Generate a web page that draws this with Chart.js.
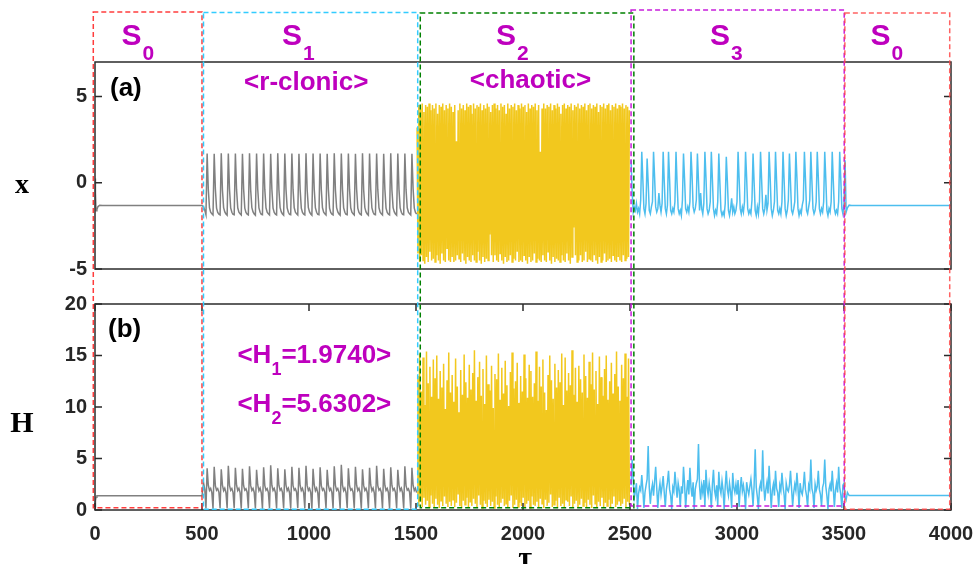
<!DOCTYPE html>
<html>
<head>
<meta charset="utf-8">
<script src="https://cdn.jsdelivr.net/npm/chart.js@4.4.1/dist/chart.umd.min.js"></script>
<style>
  body { margin: 0; background: #fff; }
  #wrap { position: relative; width: 976px; height: 564px; overflow: hidden; background: #fff; }
  canvas { position: absolute; left: 0; top: 0; }
</style>
</head>
<body>
<div id="wrap">
  <canvas id="hCanvas" width="976" height="564"></canvas>
  <canvas id="xCanvas" width="976" height="564"></canvas>
</div>
<script>
const xTicks = [0, 500, 1000, 1500, 2000, 2500, 3000, 3500, 4000];
const xPanelTicks = [-5, 0, 5];
const hPanelTicks = [0, 5, 10, 15, 20];

// state S0 (start)
const s0aT = [0, 2, 5, 9, 14, 22, 35, 500];
const s0aX = [0.25, -0.6, -1.62, -1.55, -1.38, -1.3, -1.32, -1.32];
const s0aH = [0.3, 0.9, 1.25, 1.38, 1.38, 1.38, 1.38, 1.38];

// state S1 (r-clonic), sampled every 5.5
const s1Start = 502, s1Step = 5.5;
const s1X = [
  -1.32, -1.40, -1.60,
  -1.85, 1.70, -0.40, -1.45, -1.70, -1.80,
  -1.87, 1.68, -0.36, -1.47, -1.72, -1.82,
  -1.86, 1.71, -0.42, -1.44, -1.69, -1.81,
  -1.88, 1.69, -0.38, -1.46, -1.71, -1.83,
  -1.85, 1.70, -0.40, -1.45, -1.70, -1.80,
  -1.87, 1.68, -0.36, -1.47, -1.72, -1.82,
  -1.86, 1.71, -0.42, -1.44, -1.69, -1.81,
  -1.88, 1.69, -0.38, -1.46, -1.71, -1.83,
  -1.85, 1.70, -0.40, -1.45, -1.70, -1.80,
  -1.87, 1.68, -0.36, -1.47, -1.72, -1.82,
  -1.86, 1.71, -0.42, -1.44, -1.69, -1.81,
  -1.88, 1.69, -0.38, -1.46, -1.71, -1.83,
  -1.85, 1.70, -0.40, -1.45, -1.70, -1.80,
  -1.87, 1.68, -0.36, -1.47, -1.72, -1.82,
  -1.86, 1.71, -0.42, -1.44, -1.69, -1.81,
  -1.88, 1.69, -0.38, -1.46, -1.71, -1.83,
  -1.85, 1.70, -0.40, -1.45, -1.70, -1.80,
  -1.87, 1.68, -0.36, -1.47, -1.72, -1.82,
  -1.86, 1.71, -0.42, -1.44, -1.69, -1.81,
  -1.88, 1.69, -0.38, -1.46, -1.71, -1.83,
  -1.85, 1.70, -0.40, -1.45, -1.70, -1.80,
  -1.87, 1.68, -0.36, -1.47, -1.72, -1.82,
  -1.86, 1.71, -0.42, -1.44, -1.69, -1.81,
  -1.88, 1.69, -0.38, -1.46, -1.71, -1.83,
  -1.85, 1.70, -0.40, -1.45, -1.70, -1.80,
  -1.87, 1.68, -0.36, -1.47, -1.72, -1.82,
  -1.86, 1.71, -0.42, -1.44, -1.69, -1.81,
  -1.88, 1.69, -0.38, -1.46, -1.71, -1.83,
  -1.85, 1.70, -0.40, -1.45, -1.70, -1.80,
  -1.87, 1.68, -0.36, -1.47, -1.72, -1.82
];
const s1H = [
  1.38, 2.60, 2.00,
  0.15, 4.05, 2.40, 1.90, 2.10, 1.70,
  0.12, 4.20, 2.35, 1.92, 2.08, 1.72,
  0.18, 3.95, 2.42, 1.88, 2.12, 1.68,
  0.14, 4.30, 2.38, 1.91, 2.09, 1.71,
  0.16, 4.10, 2.41, 1.89, 2.11, 1.69,
  0.13, 4.00, 2.36, 1.93, 2.07, 1.73,
  0.17, 4.25, 2.39, 1.90, 2.10, 1.70,
  0.15, 3.90, 2.43, 1.87, 2.13, 1.67,
  0.12, 4.15, 2.37, 1.92, 2.08, 1.72,
  0.18, 4.35, 2.40, 1.90, 2.10, 1.70,
  0.14, 4.05, 2.38, 1.91, 2.09, 1.71,
  0.16, 3.95, 2.42, 1.88, 2.12, 1.68,
  0.13, 4.20, 2.36, 1.93, 2.07, 1.73,
  0.17, 4.10, 2.41, 1.89, 2.11, 1.69,
  0.15, 4.30, 2.39, 1.90, 2.10, 1.70,
  0.12, 4.00, 2.43, 1.87, 2.13, 1.67,
  0.18, 4.15, 2.37, 1.92, 2.08, 1.72,
  0.14, 3.90, 2.40, 1.90, 2.10, 1.70,
  0.16, 4.25, 2.38, 1.91, 2.09, 1.71,
  0.13, 4.40, 2.42, 1.88, 2.12, 1.68,
  0.17, 4.05, 2.36, 1.93, 2.07, 1.73,
  0.15, 4.20, 2.41, 1.89, 2.11, 1.69,
  0.12, 3.95, 2.39, 1.90, 2.10, 1.70,
  0.18, 4.10, 2.43, 1.87, 2.13, 1.67,
  0.14, 4.30, 2.37, 1.92, 2.08, 1.72,
  0.16, 4.00, 2.40, 1.90, 2.10, 1.70,
  0.13, 4.15, 2.38, 1.91, 2.09, 1.71,
  0.17, 3.90, 2.42, 1.88, 2.12, 1.68,
  0.15, 4.25, 2.36, 1.93, 2.07, 1.73,
  0.12, 4.10, 2.41, 1.89, 2.11, 1.69
];

// state S2 (chaotic), sampled every 4
const s2Start = 1505, s2Step = 4;
const s2X = [
  3.2, -4.1, 4.5, -4.6, 4.3, -4.2, 4.6, -4.5, 4.1, -4.7, 4.5, -4.3, 4.4, -4.6, 4.6, -4.0, 4.2, -4.5, 4.5, -4.4,
  4.3, -4.6, 4.6, -4.2, 4.0, -4.5, 4.5, -4.7, 4.4, -4.1, 4.6, -4.5, 4.2, -4.6, 4.5, -3.8, 4.3, -4.5, 4.6, -4.6,
  4.4, -4.3, 4.1, -4.6, 4.5, -4.5, 2.4, -4.2, 4.2, -4.4, 4.6, -4.6, 4.3, -4.1, 4.5, -4.5, 4.2, -4.7, 4.6, -4.3,
  4.4, -4.5, 4.5, -4.6, 4.0, -4.2, 4.6, -4.5, 4.3, -4.6, 4.5, -4.0, 4.4, -4.5, 4.6, -4.7, 4.2, -4.3, 4.5, -4.6,
  4.3, -4.4, 4.6, -4.5, 4.4, -3.0, 4.1, -4.2, 4.5, -4.6, 4.6, -4.2, 4.3, -4.5, 4.5, -4.6, 4.2, -4.1, 4.6, -4.5,
  4.4, -4.7, 4.5, -4.3, 4.0, -4.6, 4.6, -4.5, 4.3, -4.2, 4.5, -4.6, 4.4, -4.4, 4.6, -4.5, 4.2, -4.0, 4.5, -4.6,
  4.3, -4.5, 4.6, -4.6, 4.4, -4.2, 4.5, -4.5, 4.1, -4.7, 4.6, -4.3, 4.3, -4.6, 4.5, -4.5, 4.4, -4.1, 4.6, -4.6,
  4.2, -4.4, 4.5, -4.5, 1.8, -4.6, 4.3, -4.2, 4.6, -4.5, 4.3, -4.6, 4.5, -4.0, 4.4, -4.5, 4.6, -4.7, 4.2, -4.3,
  4.5, -4.6, 4.3, -4.4, 4.6, -4.5, 4.4, -4.6, 4.0, -4.2, 4.5, -4.5, 4.6, -4.6, 4.3, -4.1, 4.5, -4.5, 4.4, -4.7,
  4.6, -4.3, 4.2, -2.6, 4.5, -4.2, 4.4, -4.6, 4.6, -4.5, 4.3, -4.2, 4.5, -4.6, 4.4, -4.5, 4.6, -4.0, 4.2, -4.6,
  4.5, -4.4, 4.6, -4.5, 4.3, -4.6, 4.5, -4.2, 4.4, -4.5, 4.6, -4.7, 4.1, -4.3, 4.5, -4.6, 4.4, -4.5, 4.6, -4.1,
  4.3, -4.6, 4.5, -4.5, 4.6, -4.4, 4.2, -4.6, 4.5, -4.2, 4.4, -4.5, 4.6, -4.6, 4.3, -4.3, 4.5, -4.5, 4.4, -4.6,
  4.6, -4.2, 4.3, -4.5, 4.5, -4.4, 4.4, -4.3, 4.2
];
const s2H = [
  1.5, 13.0, 0.4, 15.2, 0.8, 11.5, 0.3, 14.8, 1.2, 10.2, 0.5, 15.4, 0.9, 12.3, 0.3, 13.9, 1.4, 11.0, 0.6, 14.6,
  0.3, 12.8, 1.1, 15.0, 0.5, 10.8, 0.2, 13.5, 0.9, 11.9, 0.4, 14.2, 1.3, 9.8, 0.6, 12.6, 0.3, 15.3, 0.8, 11.4,
  0.4, 13.1, 1.0, 10.5, 0.3, 14.7, 0.7, 12.0, 1.5, 9.5, 0.4, 13.6, 0.2, 11.2, 0.9, 15.1, 0.5, 12.4, 1.2, 10.9,
  0.3, 14.1, 0.8, 11.7, 0.4, 13.3, 1.1, 15.5, 0.6, 10.6, 0.3, 12.9, 1.4, 14.4, 0.5, 11.1, 0.2, 13.7, 0.9, 10.3,
  0.6, 15.0, 0.3, 12.2, 1.0, 11.6, 0.4, 14.0, 0.8, 9.9, 0.2, 13.2, 1.3, 12.7, 0.5, 15.2, 0.3, 10.7, 0.7, 13.8,
  1.1, 11.3, 0.4, 14.5, 0.6, 12.1, 0.3, 10.1, 0.9, 13.4, 1.4, 15.3, 0.2, 11.8, 0.5, 12.5, 1.0, 14.3, 0.3, 10.4,
  0.7, 13.0, 0.4, 11.5, 1.2, 15.1, 0.3, 12.8, 0.6, 10.9, 0.9, 14.1, 0.2, 13.5, 1.3, 11.0, 0.5, 12.3, 0.4, 15.4,
  0.8, 10.6, 0.3, 13.9, 1.1, 12.0, 0.6, 14.6, 0.2, 11.4, 1.0, 9.7, 0.4, 13.1, 0.7, 15.0, 1.5, 12.6, 0.3, 10.8,
  0.5, 14.2, 0.9, 11.9, 0.2, 13.6, 1.2, 12.4, 0.4, 15.2, 0.6, 10.2, 0.3, 14.8, 1.0, 11.6, 0.8, 13.3, 0.4, 12.1,
  1.3, 15.5, 0.3, 11.2, 0.6, 13.8, 0.9, 10.5, 0.2, 14.0, 0.5, 12.7, 1.1, 11.4, 0.4, 15.1, 0.7, 13.0, 0.3, 10.9,
  1.0, 14.4, 0.5, 12.2, 0.2, 15.3, 1.4, 11.7, 0.6, 13.5, 0.3, 10.3, 0.8, 14.9, 0.4, 12.9, 1.2, 11.1, 0.3, 13.7,
  0.7, 15.0, 0.4, 10.7, 1.0, 12.5, 0.2, 14.3, 0.6, 11.3, 1.3, 13.2, 0.3, 15.4, 0.5, 12.0, 0.9, 10.6, 0.4, 14.1,
  0.6, 12.8, 1.1, 15.2, 0.3, 11.0, 0.8, 14.7, 0.5
];

// state S3, sampled every 5
const s3Start = 2505, s3Step = 5;
const s3X = [
  1.3, -0.5, -1.7, -1.4, -1.6, -1.2, -1.7, -1.5, -1.8, -1.0,
  1.8, 0.2, -1.5, -1.8, -1.2, 1.4, 0.0, -1.6, -1.8, -1.4,
  -1.1, 1.8, 0.3, -1.4, -1.7, -1.5, -0.6, -1.3, -1.7, -1.2,
  1.8, 0.1, -1.5, -1.8, -1.3, 1.8, 0.2, -1.6, -1.8, -1.5,
  -1.7, -1.1, 1.8, 0.0, -1.5, -1.8, -1.6, -1.9, -1.0, 1.7,
  0.2, -1.5, -1.7, -1.4, -1.7, -1.1, 1.8, 0.4, -1.4, -1.7,
  -1.5, -1.0, 1.7, 0.1, -1.6, -0.6, -1.5, -1.8, -1.2, 1.8,
  0.3, -1.5, -1.8, -1.6, -1.1, 1.8, 0.2, -1.5, -1.9, -1.6,
  -1.8, -1.1, 1.7, 0.0, -1.6, -1.9, -1.7, -1.9, -1.2, 1.5,
  0.1, -1.6, -1.9, -1.5, -0.9, -1.7, -1.4, -1.8, -1.6, -1.1,
  1.8, 0.2, -1.5, -1.8, -1.4, -1.7, -1.1, 1.8, 0.3, -1.5,
  -1.8, -1.6, -1.8, -1.0, 1.7, 0.0, -1.6, -1.9, -1.4, -1.8,
  -1.1, 1.8, 0.2, -1.5, -1.8, -1.5, -0.7, -1.6, -1.2, 1.8,
  0.3, -1.5, -1.9, -1.6, -1.1, 1.8, 0.1, -1.6, -1.8, -1.5,
  -1.8, -1.1, 1.8, 0.2, -1.5, -1.9, -1.6, -1.0, 1.7, 0.0,
  -1.6, -1.8, -1.5, -1.1, 1.8, 0.3, -1.5, -1.9, -1.6, -1.8,
  -1.3, -1.0, 1.8, 0.2, -1.6, -1.8, -1.4, -1.0, 1.8, 0.1,
  -1.5, -1.8, -1.6, -1.1, 1.8, 0.3, -1.5, -1.8, -1.5, -1.7,
  -1.1, 1.8, 0.2, -1.6, -1.9, -1.5, -1.7, -1.1, 1.8, 0.1,
  -1.5, -1.8, -1.6, -1.8, -1.1, 1.8, 0.2, -1.5, -1.8, -1.2,
  1.3
];
const s3H = [
  2.4, 4.9, 3.0, 1.2, 1.8, 2.6, 0.1, 1.6, 2.2, 1.9,
  3.4, 2.0, 0.2, 1.7, 2.4, 3.0, 6.2, 2.2, 0.6, 1.9,
  2.5, 1.4, 2.8, 4.2, 2.1, 0.2, 1.8, 2.6, 1.5, 2.3,
  3.3, 1.7, 0.3, 2.0, 2.7, 3.8, 2.0, 1.4, 0.1, 2.2,
  1.8, 3.7, 2.4, 1.2, 2.6, 1.9, 0.3, 2.3, 1.6, 4.2,
  2.5, 0.2, 1.8, 2.9, 1.5, 4.1, 2.2, 1.3, 2.7, 0.1,
  2.0, 2.6, 3.0, 6.4, 2.3, 1.0, 2.4, 1.7, 2.9, 0.3,
  3.9, 2.2, 1.5, 2.6, 1.8, 0.2, 2.5, 3.9, 1.9, 1.3,
  2.4, 0.4, 3.7, 2.1, 1.6, 2.8, 1.9, 0.1, 2.3, 3.8,
  2.0, 1.4, 2.6, 1.8, 0.2, 3.6, 2.2, 1.7, 2.5, 1.5,
  2.9, 0.3, 2.1, 3.2, 1.8, 2.4, 1.6, 0.1, 2.7, 2.0,
  1.5, 2.3, 3.0, 1.9, 0.4, 2.4, 5.9, 2.2, 1.3, 0.1,
  2.1, 2.6, 1.8, 5.8, 2.4, 0.9, 2.0, 2.7, 1.6, 4.3,
  2.2, 0.2, 1.9, 2.5, 1.4, 3.8, 2.1, 1.7, 0.3, 2.4,
  1.9, 3.6, 2.3, 1.5, 0.1, 2.6, 2.0, 1.8, 2.4, 3.8,
  2.1, 0.4, 1.7, 2.5, 1.9, 3.6, 2.2, 0.2, 2.6, 1.8,
  1.5, 2.3, 3.7, 2.0, 1.4, 0.3, 2.4, 2.0, 4.9, 2.1,
  1.6, 0.2, 2.5, 1.9, 2.3, 3.8, 2.0, 1.5, 0.4, 2.2,
  2.6, 4.9, 2.3, 1.4, 0.1, 2.0, 2.5, 1.8, 3.8, 2.1,
  0.3, 1.9, 2.6, 1.7, 4.2, 2.2, 1.5, 0.2, 2.4, 2.6,
  1.3
];

// state S0 (end)
const s0bT = [3510, 3516, 3524, 3535, 4000];
const s0bX = [-1.7, -1.45, -1.3, -1.32, -1.32];
const s0bH = [1.0, 1.7, 1.4, 1.4, 1.4];

// regions and their dashed boxes
const regionSub = ['0', '1', '2', '3', '0'];
const regionStart = [0, 500, 1500, 2500, 3500];
const regionEnd = [500, 1500, 2500, 3500, 4000];
const boxLeft = [-8, 507, 1520, 2505, 3504];
const boxRight = [500, 1508, 2518, 3501, 3994];
const boxBottomH = [0.22, 0.07, 0.22, 0.39, 0.07];
const boxTopPx = [12, 12.5, 13, 10, 13];
const boxColors = ['rgba(255,40,40,0.9)', '#33CCFF', '#008000', '#C81EDC', 'rgba(255,70,70,0.85)'];

const GRAY = '#808080', YELLOW = '#F2C81E', BLUE = '#4DBEEE', MAGENTA = '#BE00BE';
const TICK_FONT = { family: 'Arial, "Liberation Sans", sans-serif', size: 20, weight: 'bold' };
const SERIF = '"Liberation Serif", "Times New Roman", serif';

function pts(t, v) { return v.map((y, i) => ({ x: t[i], y })); }
function ptsStep(start, step, v) { return v.map((y, i) => ({ x: start + i * step, y })); }
function series(data, color) {
  return { data, borderColor: color, borderWidth: 1.5, pointRadius: 0, tension: 0, fill: false };
}

const frame = {
  id: 'frame',
  afterDatasetsDraw(chart, args, opts) {
    const ctx = chart.ctx, a = chart.chartArea;
    const ys = chart.scales.y, xs = chart.scales.x;
    ctx.save();
    ctx.strokeStyle = '#2b2b2b';
    ctx.lineWidth = 1.5;
    ctx.strokeRect(a.left, a.top, a.right - a.left, a.bottom - a.top);
    ctx.beginPath();
    ys.ticks.forEach(t => {
      const p = ys.getPixelForValue(t.value);
      ctx.moveTo(a.left, p); ctx.lineTo(a.left + 7, p);
      ctx.moveTo(a.right, p); ctx.lineTo(a.right - 7, p);
    });
    if (opts.xTicks) {
      xTicks.forEach(v => {
        const p = xs.getPixelForValue(v);
        ctx.moveTo(p, a.top); ctx.lineTo(p, a.top + 7);
        ctx.moveTo(p, a.bottom); ctx.lineTo(p, a.bottom - 7);
      });
    }
    ctx.stroke();
    ctx.restore();
  }
};

function panelOptions(yMin, yMax, yTicks, padding, showX) {
  return {
    responsive: false,
    animation: false,
    events: [],
    layout: { padding },
    plugins: { legend: { display: false }, tooltip: { enabled: false }, frame: { xTicks: showX } },
    scales: {
      x: {
        type: 'linear', min: 0, max: 4000,
        display: showX,
        afterBuildTicks: s => { s.ticks = xTicks.map(v => ({ value: v })); },
        afterFit: s => { s.height = showX ? 54 : 0; s.paddingLeft = 0; s.paddingRight = 0; },
        grid: { display: false, drawTicks: false },
        border: { display: false },
        ticks: { font: TICK_FONT, color: '#262626', padding: 12, maxRotation: 0, autoSkip: false, callback: v => String(v) }
      },
      y: {
        min: yMin, max: yMax,
        afterBuildTicks: s => { s.ticks = yTicks.map(v => ({ value: v })); },
        afterFit: s => { s.width = 95; s.paddingTop = 0; s.paddingBottom = 0; },
        grid: { display: false, drawTicks: false },
        border: { display: false },
        ticks: { font: TICK_FONT, color: '#262626', padding: 8, callback: v => String(v) }
      }
    }
  };
}

const hChart = new Chart(document.getElementById('hCanvas'), {
  type: 'line',
  data: {
    datasets: [
      series(pts(s0aT, s0aH).concat(ptsStep(s1Start, s1Step, s1H)), GRAY),
      series(ptsStep(s2Start, s2Step, s2H), YELLOW),
      series(ptsStep(s3Start, s3Step, s3H).concat(pts(s0bT, s0bH)), BLUE)
    ]
  },
  options: panelOptions(0, 20, hPanelTicks, { left: 0, top: 304, right: 25, bottom: 0 }, true),
  plugins: [frame]
});

function subText(ctx, cx, base, parts) {
  let w = 0;
  parts.forEach(p => { ctx.font = p[1]; w += ctx.measureText(p[0]).width; });
  let x = cx - w / 2;
  parts.forEach(p => {
    ctx.font = p[1];
    ctx.fillText(p[0], x, base + p[2]);
    x += ctx.measureText(p[0]).width;
  });
}

const overlay = {
  id: 'overlay',
  afterDraw(chart) {
    const ctx = chart.ctx, xs = chart.scales.x, hs = hChart.scales.y;
    ctx.save();
    // dashed state boxes
    ctx.lineWidth = 1.5;
    ctx.setLineDash([5, 3]);
    boxLeft.forEach((l, i) => {
      const x1 = xs.getPixelForValue(l), x2 = xs.getPixelForValue(boxRight[i]);
      const y2 = hs.getPixelForValue(boxBottomH[i]);
      ctx.strokeStyle = boxColors[i];
      ctx.strokeRect(x1, boxTopPx[i], x2 - x1, y2 - boxTopPx[i]);
    });
    ctx.setLineDash([]);
    // state labels
    ctx.fillStyle = MAGENTA;
    ctx.textAlign = 'left';
    ctx.textBaseline = 'alphabetic';
    regionStart.forEach((s, i) => {
      const cx = xs.getPixelForValue((s + regionEnd[i]) / 2) - 27;
      ctx.font = 'bold 30px Arial, "Liberation Sans", sans-serif';
      ctx.fillText('S', cx, 45);
      const w = ctx.measureText('S').width;
      ctx.font = 'bold 21px Arial, "Liberation Sans", sans-serif';
      ctx.fillText(regionSub[i], cx + w + 1, 60);
    });
    ctx.textAlign = 'center';
    ctx.font = 'bold 26px Arial, "Liberation Sans", sans-serif';
    ctx.fillText('<r-clonic>', xs.getPixelForValue(987), 90);
    ctx.fillText('<chaotic>', xs.getPixelForValue(2035), 88);
    ctx.textAlign = 'left';
    const big = 'bold 26px Arial, "Liberation Sans", sans-serif';
    const small = 'bold 18px Arial, "Liberation Sans", sans-serif';
    subText(ctx, xs.getPixelForValue(1025), 363, [['<H', big, 0], ['1', small, 12], ['=1.9740>', big, 0]]);
    subText(ctx, xs.getPixelForValue(1025), 412, [['<H', big, 0], ['2', small, 12], ['=5.6302>', big, 0]]);
    // panel tags
    ctx.fillStyle = '#000';
    ctx.font = 'bold 26px Arial, "Liberation Sans", sans-serif';
    ctx.fillText('(a)', 110, 96);
    ctx.fillText('(b)', 108, 337);
    // axis titles
    ctx.textAlign = 'center';
    ctx.font = 'bold 28px ' + SERIF;
    ctx.fillText('x', 22, 193);
    ctx.font = 'bold 30px ' + SERIF;
    ctx.fillText('H', 22, 432);
    ctx.fillText('\u03C4', xs.getPixelForValue(2010), 567);
    ctx.restore();
  }
};

const xChart = new Chart(document.getElementById('xCanvas'), {
  type: 'line',
  data: {
    datasets: [
      series(pts(s0aT, s0aX).concat(ptsStep(s1Start, s1Step, s1X)), GRAY),
      series(ptsStep(s2Start, s2Step, s2X), YELLOW),
      series(ptsStep(s3Start, s3Step, s3X).concat(pts(s0bT, s0bX)), BLUE)
    ]
  },
  options: panelOptions(-5, 7, xPanelTicks, { left: 0, top: 62, right: 25, bottom: 295 }, false),
  plugins: [frame, overlay]
});
</script>
</body>
</html>
